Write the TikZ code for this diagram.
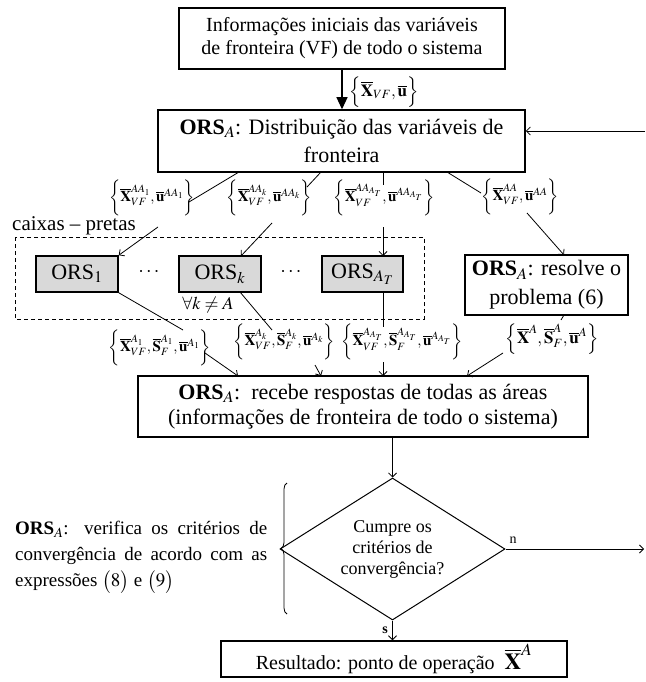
\documentclass[tikz,border=0pt]{standalone}
\usepackage{mathptmx}
\usepackage[no-math]{fontspec}
\setmainfont{Liberation Serif}
\usetikzlibrary{arrows.meta,shapes.geometric,decorations.pathreplacing}
\newcommand{\myfs}[2]{\fontsize{#1pt}{#2pt}\selectfont}
\newcommand{\orsA}{\textbf{ORS}$_{A}$}
\newcommand{\myX}{\overline{\mathbf{X}}}
\newcommand{\myU}{\overline{\mathbf{u}}}
\newcommand{\myS}{\overline{\mathbf{S}}}
\newcommand{\lstr}{\rule[-10pt]{0pt}{29pt}}
\begin{document}
\begin{tikzpicture}[x=1pt,y=-1pt,
  box/.style={draw, line width=1.5pt, align=center, inner sep=0pt},
  gbox/.style={box, fill=black!15, minimum width=82pt, minimum height=36pt, font=\myfs{22}{26}},
  conn/.style={line width=0.8pt},
  arr/.style={conn, -{Straight Barb[length=4pt,width=8pt]}},
  lab/.style={inner sep=0pt, font=\myfs{15}{17}},
]
\useasboundingbox (0,0) rectangle (645,682);

% main boxes
\node[box, minimum width=326pt, minimum height=61pt, font=\myfs{20}{23}] (top) at (342,38.5)
  {Informações iniciais das variáveis\\de fronteira (VF) de todo o sistema};
\node[box, minimum width=367pt, minimum height=62pt, font=\myfs{22}{28}] (dist) at (341.5,141)
  {\orsA: Distribuição das variáveis de\\fronteira};
\node[box, minimum width=163pt, minimum height=60pt, font=\myfs{22}{29}] (res) at (546.5,285)
  {\orsA: resolve o\\problema (6)};
\node[box, minimum width=450pt, minimum height=61pt, font=\myfs{22}{25}] (rec) at (363,406.5)
  {\orsA:\ \ recebe respostas de todas as áreas\\(informações de fronteira de todo o sistema)};
\node[draw, line width=1pt, diamond, aspect=1.58, inner sep=0pt, minimum width=225pt,
  minimum height=142pt, align=center, font=\myfs{18}{21}] (dia) at (392.5,549)
  {Cumpre os\\critérios de\\convergência?};
\node[box, minimum width=346pt, minimum height=36pt, font=\myfs{20}{24}] (out) at (394,659)
  {Resultado: ponto de operação\ \ {\myfs{23}{24}$\myX^{A}$}};

% black boxes
\draw[dashed, line width=1pt, dash pattern=on 4pt off 3pt] (15,237) rectangle (424,319);
\node[font=\myfs{21}{24}, anchor=base west, inner sep=0pt] (cp) at (12,230) {caixas -- pretas};
\node[gbox] (o1) at (77,274) {ORS$_{1}$};
\node[gbox] (ok) at (220,274) {ORS$_{k}$};
\node[gbox, minimum width=81pt] (oat) at (362.5,274) {ORS$_{A_T}$};
\node[font=\myfs{20}{24}] (dots1) at (149,272) {$\cdots$};
\node[font=\myfs{20}{24}] (dots2) at (291,272) {$\cdots$};
\node[font=\myfs{18}{22}] (fa) at (208,305) {$\forall k \neq A$};

% labels
\node[lab, font=\myfs{17}{20}] (L0) at (384,92) {$\left\{\lstr\myX_{VF},\myU\right\}$};
\node[lab] (L1) at (152,198) {$\left\{\lstr\myX^{AA_1}_{VF},\myU^{AA_1}\right\}$};
\node[lab] (L2) at (269,198) {$\left\{\lstr\myX^{AA_k}_{VF},\myU^{AA_k}\right\}$};
\node[lab] (L3) at (384,198) {$\left\{\lstr\myX^{AA_{A_T}}_{VF},\myU^{AA_{A_T}}\right\}$};
\node[lab] (L4) at (520,197) {$\left\{\lstr\myX^{AA}_{VF},\myU^{AA}\right\}$};
\node[lab] (L5) at (160,348) {$\left\{\lstr\myX^{A_1}_{VF},\myS^{A_1}_{F},\myU^{A_1}\right\}$};
\node[lab] (L6) at (284,342) {$\left\{\lstr\myX^{A_k}_{VF},\myS^{A_k}_{F},\myU^{A_k}\right\}$};
\node[lab] (L7) at (402,342) {$\left\{\lstr\myX^{A_{A_T}}_{VF},\myS^{A_{A_T}}_{F},\myU^{A_{A_T}}\right\}$};
\node[lab, font=\myfs{17}{20}] (L8) at (552,339) {$\left\{\lstr\myX^{A},\myS^{A}_{F},\myU^{A}\right\}$};

% left text and brace
\node[anchor=north west, inner sep=0pt, text width=252pt, align=justify, font=\myfs{19}{26}] (vt) at (15,521)
  {\orsA: verifica os critérios de\linebreak convergência de acordo com as\linebreak expressões $\bigl(8\bigr)$ e $\bigl(9\bigr)$};
\draw[line width=0.8pt, decorate, decoration={brace, amplitude=6pt}] (287,614) -- (287,483);

% connectors
\draw[line width=1.2pt, -{Triangle[length=12pt,width=11pt]}] (top.south) -- (top.south |- dist.north);
\coordinate (fb) at (645,131);
\draw[arr] (fb) -- (fb -| dist.east);

\coordinate (a1) at (239,172); \coordinate (b1) at (189,202); \coordinate (c1) at (158,227);
\draw[conn] (a1) -- (b1);
\draw[arr] (c1) -- (o1.north east);

\coordinate (a2) at (321,172); \coordinate (b2) at (307,187); \coordinate (c2) at (272,223);
\coordinate (e2) at (241,256);
\draw[conn] (a2) -- (b2);
\draw[arr] (c2) -- (e2);

\coordinate (a3) at (383,172); \coordinate (b3) at (383,185); \coordinate (c3) at (383,227);
\coordinate (e3) at (383,256);
\draw[conn] (a3) -- (b3);
\draw[arr] (c3) -- (e3);

\coordinate (a4) at (447,172); \coordinate (b4) at (481,193); \coordinate (c4) at (527,213);
\coordinate (e4) at (564,255);
\draw[conn] (a4) -- (b4);
\draw[arr] (c4) -- (e4);

\coordinate (b5) at (183,330); \coordinate (c5) at (205,353); \coordinate (e5) at (238,376);
\draw[conn] (o1.south east) -- (b5);
\draw[arr] (c5) -- (e5);

\coordinate (a6) at (240,292); \coordinate (b6) at (272,330); \coordinate (c6) at (315,365);
\coordinate (e6) at (321,376);
\draw[conn] (a6) -- (b6);
\draw[arr] (c6) -- (e6);

\coordinate (a7) at (383,292); \coordinate (b7) at (383,327); \coordinate (c7) at (383,362);
\coordinate (e7) at (383,376);
\draw[conn] (a7) -- (b7);
\draw[arr] (c7) -- (e7);

\coordinate (a8) at (564,315); \coordinate (b8) at (561,320); \coordinate (c8) at (503,353);
\coordinate (e8) at (467,376);
\draw[conn] (a8) -- (b8);
\draw[arr] (c8) -- (e8);

\draw[arr] (dia.north |- rec.south) -- (dia.north);
\coordinate (nR) at (644,549);
\draw[arr] (dia.east) -- (nR);
\node[font=\myfs{14}{16}] (nl) at (513,540) {n};
\draw[arr] (dia.south) -- (dia.south |- out.north);
\node[font=\bfseries\myfs{14}{16}] (sl) at (385,630) {s};
\end{tikzpicture}
\end{document}
